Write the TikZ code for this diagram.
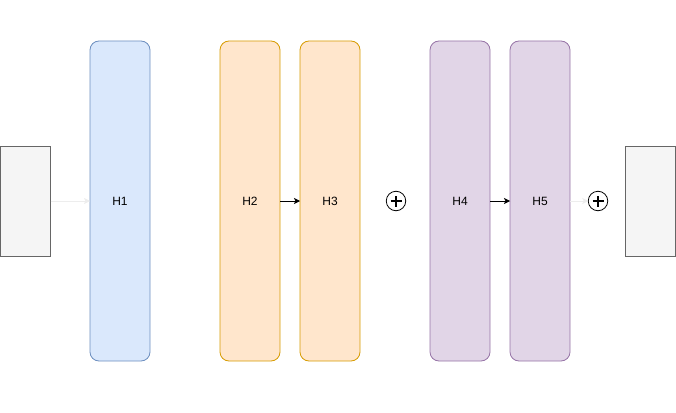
\documentclass[tikz,border=0pt]{standalone}
\usepackage{fontspec}
\setmainfont{Liberation Sans}
\usetikzlibrary{positioning, arrows.meta}
\definecolor{blueFill}{HTML}{DAE8FC}
\definecolor{blueLine}{HTML}{6C8EBF}
\definecolor{orangeFill}{HTML}{FFE6CC}
\definecolor{orangeLine}{HTML}{D79B00}
\definecolor{purpleFill}{HTML}{E1D5E7}
\definecolor{purpleLine}{HTML}{9673A6}
\definecolor{grayFill}{HTML}{F5F5F5}
\definecolor{grayLine}{HTML}{666666}
\tikzstyle{layer} = [rectangle, rounded corners=9pt, line width=0.8pt, outer sep=0pt, minimum width=60pt, minimum height=320pt, text centered]
\tikzstyle{bluebox} = [layer, draw=blueLine, fill=blueFill]
\tikzstyle{orangebox} = [layer, draw=orangeLine, fill=orangeFill]
\tikzstyle{purplebox} = [layer, draw=purpleLine, fill=purpleFill]
\tikzstyle{graybox} = [rectangle, draw=grayLine, fill=grayFill, line width=0.8pt, outer sep=0pt, minimum width=50pt, minimum height=110pt]
\tikzstyle{plus} = [circle, draw, line width=0.8pt, outer sep=0pt, minimum size=19.5pt,
  path picture={\draw[line width=1.4pt] ([xshift=-5.5pt]path picture bounding box.center) -- ([xshift=5.5pt]path picture bounding box.center);
                \draw[line width=1.4pt] ([yshift=-5.5pt]path picture bounding box.center) -- ([yshift=5.5pt]path picture bounding box.center);}]
\tikzstyle{arrow} = [line width=0.8pt, -{Stealth[length=6pt, width=6pt, inset=1.5pt]}]
\tikzstyle{faint} = [arrow, draw=white!93!black]

\begin{document}
\begin{tikzpicture}[x=1pt, y=-1pt, font=\fontsize{12}{14}\selectfont]
    \useasboundingbox (0,0) rectangle (676,412);
    \node (in) [graybox] at (25.5,201) {};
    \node (h1) [bluebox] at (120,201) {H1};
    \node (h2) [orangebox, right=70pt of h1] {H2};
    \node (h3) [orangebox, right=20pt of h2] {H3};
    \node (plus1) [plus, right=26.25pt of h3] {};

    \node (h4) [purplebox, right=70pt of h3] {H4};
    \node (h5) [purplebox, right=20pt of h4] {H5};
    \node (plus2) [plus, right=18.25pt of h5] {};
    \node (out) [graybox, right=55pt of h5] {};

    \draw [faint] (in) -- (h1);
    \draw [arrow] (h2) -- (h3);
    \draw [arrow] (h4) -- (h5);
    \draw [faint] (h5) -- (plus2);
\end{tikzpicture}
\end{document}
